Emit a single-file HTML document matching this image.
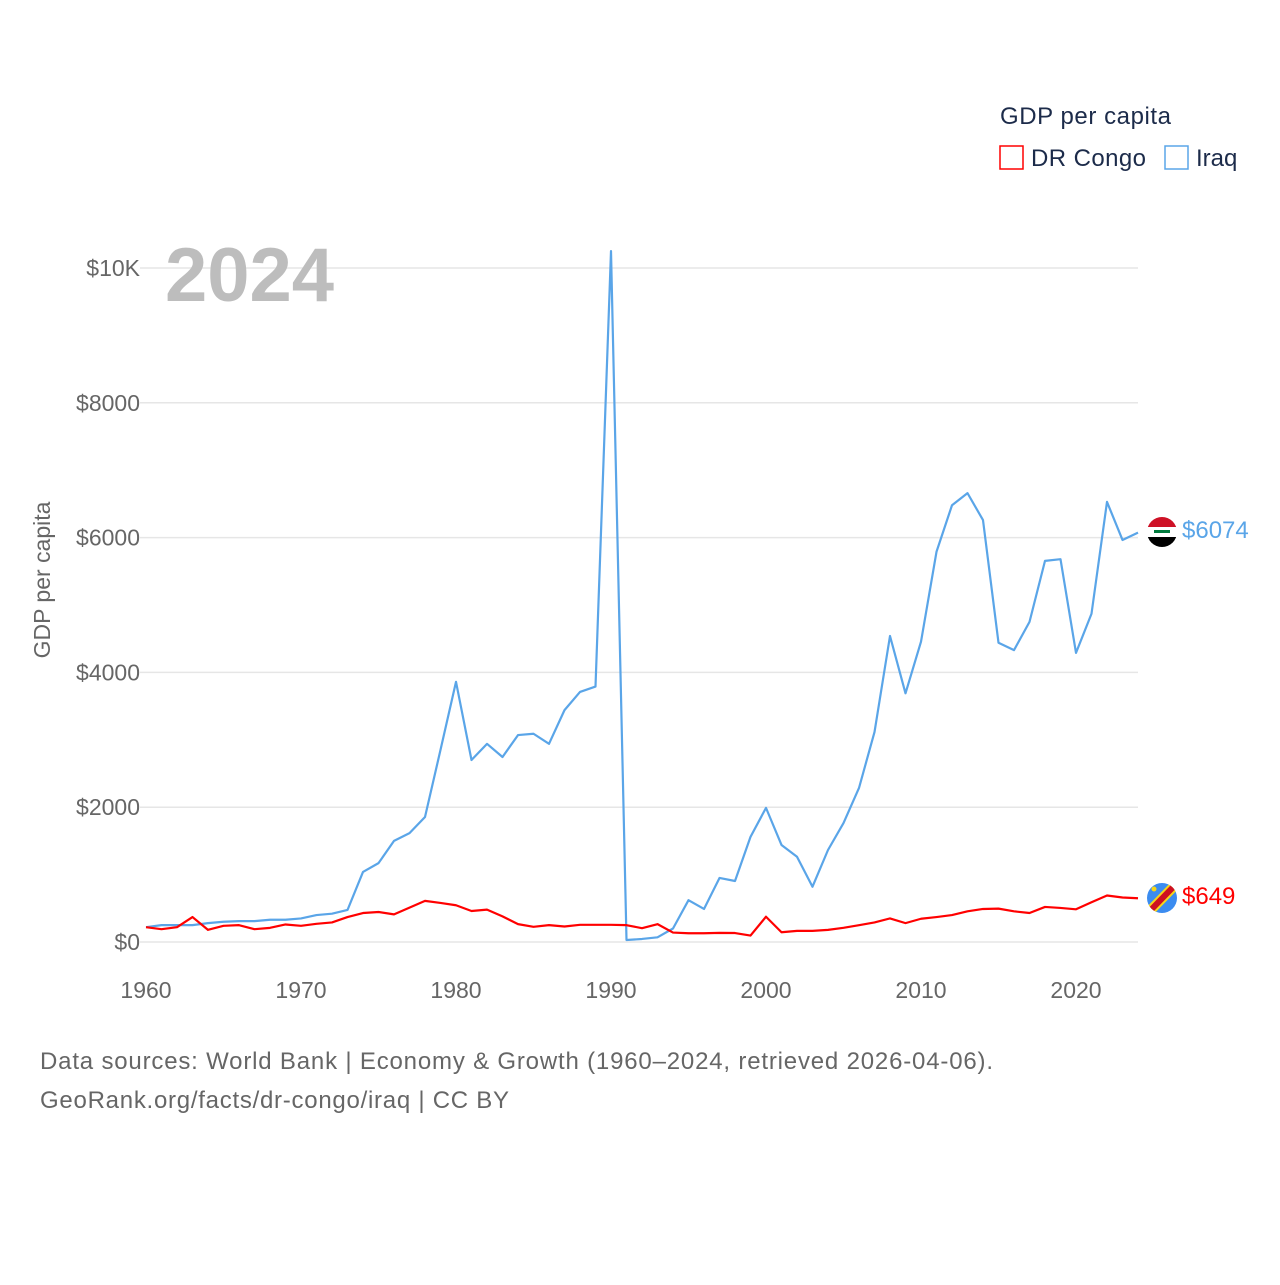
<!DOCTYPE html>
<html><head><meta charset="utf-8"><style>
body{margin:0;background:#fff;font-family:"Liberation Sans",sans-serif;}
svg text{font-family:"Liberation Sans",sans-serif;}
</style></head><body>
<svg id="chart" width="1280" height="1280" xmlns="http://www.w3.org/2000/svg">
<rect width="1280" height="1280" fill="#fff"/>
<g id="grid"></g>
<g id="yticks"></g>
<g id="xticks"></g>
<text x="165" y="301" font-size="76" font-weight="bold" fill="#bdbdbd">2024</text>
<text transform="translate(50,580) rotate(-90)" text-anchor="middle" font-size="23" fill="#666">GDP per capita</text>
<text x="1000" y="124" font-size="24" fill="#1c2b4a" textLength="171">GDP per capita</text>
<g><rect x="1000" y="146" width="23" height="23" fill="none" stroke="#ff0000" stroke-width="1.5"/><text x="1031" y="166" font-size="24" fill="#1c2b4a" textLength="115">DR Congo</text></g>
<g><rect x="1165" y="146" width="23" height="23" fill="none" stroke="#5aa5e8" stroke-width="1.5"/><text x="1196" y="166" font-size="24" fill="#1c2b4a">Iraq</text></g>
<g id="series"></g>
<defs>
<clipPath id="c1"><circle cx="1162" cy="532" r="15"/></clipPath>
<clipPath id="c2"><circle cx="1162" cy="898" r="15"/></clipPath>
</defs>
<g clip-path="url(#c1)">
<rect x="1147" y="517" width="30" height="10" fill="#ce1126"/><rect x="1147" y="527" width="30" height="10" fill="#fff"/><rect x="1147" y="537" width="30" height="10" fill="#000"/>
<rect x="1154" y="530" width="16" height="3" fill="#007a3d"/></g>
<g clip-path="url(#c2)">
<rect x="1147" y="883" width="30" height="30" fill="#3b8cf0"/>
<line x1="1145" y1="916" x2="1180" y2="880" stroke="#f7d618" stroke-width="10"/>
<line x1="1145" y1="916" x2="1180" y2="880" stroke="#ce1021" stroke-width="6"/>
<circle cx="1154" cy="889" r="2.5" fill="#f7d618"/></g>
<text x="1182" y="538" font-size="24" fill="#5aa5e8">$6074</text>
<text x="1182" y="904" font-size="24" fill="#ff0000">$649</text>
<text x="40" y="1069" font-size="24" fill="#666" textLength="953">Data sources: World Bank | Economy &amp; Growth (1960–2024, retrieved 2026-04-06).</text>
<text x="40" y="1108" font-size="24" fill="#666" textLength="469">GeoRank.org/facts/dr-congo/iraq | CC BY</text>
</svg>
<script>
const years=[];for(let y=1960;y<=2024;y++)years.push(y);
const iraq=[220,250,250,250,280,300,310,310,330,330,350,400,420,475,1040,1170,1500,1615,1855,2850,3860,2700,2940,2745,3070,3090,2940,3440,3710,3790,10250,30,45,70,200,620,490,950,905,1560,1990,1440,1265,820,1365,1765,2285,3115,4540,3690,4455,5790,6480,6660,6260,4440,4330,4750,5655,5680,4290,4870,6530,5965,6074];
const drc=[220,190,220,370,180,240,250,190,210,260,240,270,290,370,430,445,410,510,610,580,545,460,480,380,265,225,250,230,255,255,255,250,205,265,140,130,130,135,133,95,375,145,165,165,180,210,250,290,350,280,345,370,400,455,490,495,455,430,520,505,485,590,690,660,649];
const yTicks=[0,2000,4000,6000,8000,10000];
const yTickLabels=["$0","$2000","$4000","$6000","$8000","$10K"];
const xTicks=[1960,1970,1980,1990,2000,2010,2020];
const NS="http://www.w3.org/2000/svg";
const xs=y=>146+(y-1960)*15.5;
const ys=v=>942-v*0.0674;
function mk(t,a,p){const e=document.createElementNS(NS,t);for(const k in a)e.setAttribute(k,a[k]);p.appendChild(e);return e;}
const grid=document.getElementById('grid'),yt=document.getElementById('yticks'),xt=document.getElementById('xticks'),se=document.getElementById('series');
yTicks.forEach((v,i)=>{
 const l=mk('line',{x1:140,x2:1138,y1:ys(v),y2:ys(v),stroke:'#e6e6e6','stroke-width':1.5},grid);
 
 
 const t=mk('text',{x:140,y:ys(v)+8,'text-anchor':'end','font-size':23,fill:'#666'},yt);
 t.textContent=yTickLabels[i];
 
 
});
xTicks.forEach(y=>{
 const t=mk('text',{x:xs(y),y:998,'text-anchor':'middle','font-size':23,fill:'#666'},xt);
 t.textContent=y;
 
 
});
function line(d,c,n){
 const p=mk('polyline',{points:d.map((v,i)=>xs(years[i])+','+ys(v)).join(' '),fill:'none',stroke:c,'stroke-width':2.2,'stroke-linejoin':'round'},se);
 
 
}
line(iraq,'#5aa5e8','iraq-line');
line(drc,'#ff0000','drc-line');
</script>
</body></html>
